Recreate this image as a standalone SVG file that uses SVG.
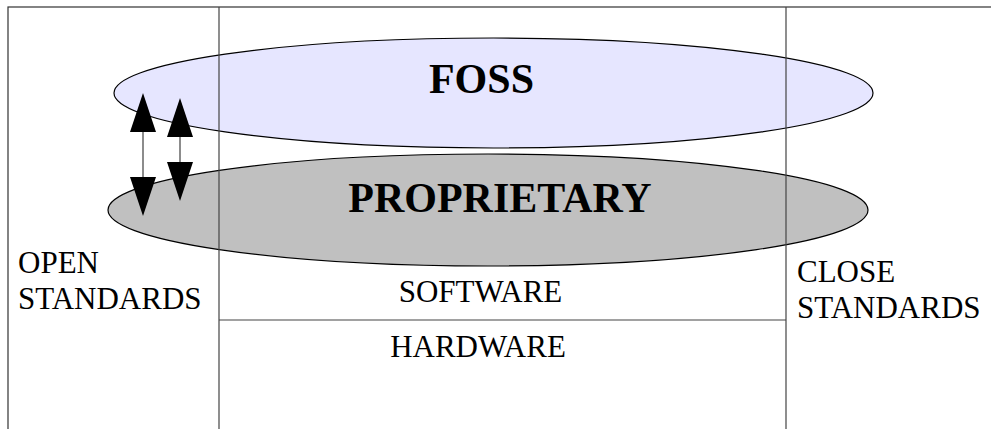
<svg xmlns="http://www.w3.org/2000/svg" width="991" height="429" viewBox="0 0 991 429">
<style>
.frame{fill:none;stroke:#333;stroke-width:1.2}
.div{stroke:#444;stroke-width:1.2}
.ell{stroke:#000;stroke-width:1.2}
.big{font-family:"Liberation Serif",serif;font-weight:bold;font-size:42px;text-anchor:middle;fill:#000}
.lbl{font-family:"Liberation Serif",serif;font-size:31px;fill:#000}
.mid{text-anchor:middle}
.shaft{stroke:#666;stroke-width:1.5}
.head{fill:#000}
</style>
<g id="foss"><ellipse class="ell" cx="493.5" cy="93" rx="379.5" ry="55" fill="#e6e6ff"/></g>
<g id="proprietary"><ellipse class="ell" cx="488" cy="210" rx="380" ry="56" fill="#c0c0c0"/></g>
<g id="frame">
<rect class="frame" x="8" y="7" width="1000" height="440"/>
<line class="div" x1="219" y1="7" x2="219" y2="429"/>
<line class="div" x1="786" y1="7" x2="786" y2="429"/>
<line class="div" x1="219" y1="320" x2="786" y2="320"/>
</g>
<g id="connectors">
<line class="shaft" x1="143" y1="130" x2="143" y2="180"/>
<polygon class="head" points="143,93 130,132 156,132"/>
<polygon class="head" points="143,216 130,177 156,177"/>
<line class="shaft" x1="180" y1="135" x2="180" y2="165"/>
<polygon class="head" points="180,98 167,137 193,137"/>
<polygon class="head" points="180,201 167,162 193,162"/>
</g>
<g id="labels">
<text class="big" x="481.5" y="93">FOSS</text>
<text class="big" x="500" y="212">PROPRIETARY</text>
<text class="lbl mid" x="480.5" y="302">SOFTWARE</text>
<text class="lbl mid" x="478" y="357">HARDWARE</text>
<text class="lbl" x="18" y="273">OPEN</text>
<text class="lbl" x="18" y="309">STANDARDS</text>
<text class="lbl" x="797" y="282">CLOSE</text>
<text class="lbl" x="797" y="318">STANDARDS</text>
</g>
</svg>
